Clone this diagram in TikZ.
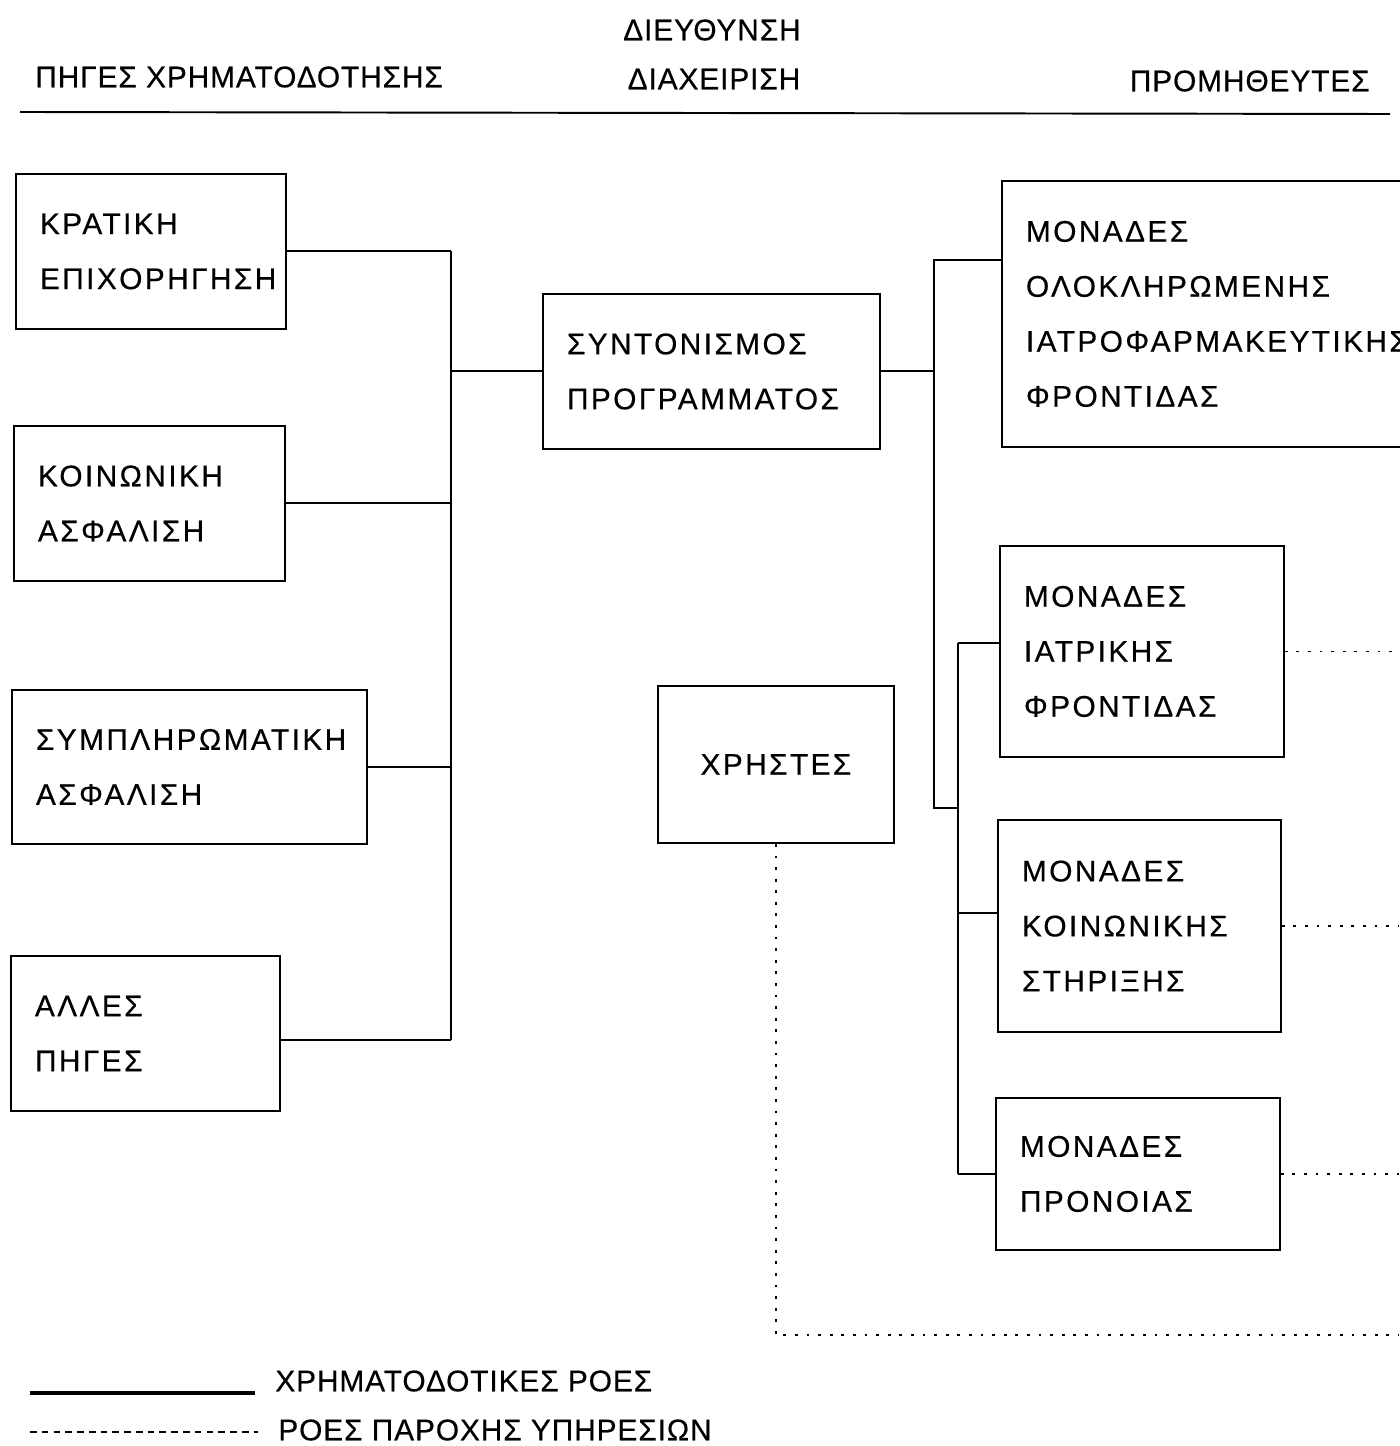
\documentclass[tikz,border=0pt]{standalone}
\usepackage{fontspec}
\setmainfont{Liberation Sans}[LetterSpace=3, FakeBold=0.4]
\newfontfamily\boxfont{Liberation Sans}[LetterSpace=8, FakeBold=0.4]
\usepackage{tikz}

\begin{document}
\begin{tikzpicture}[x=0.02cm, y=-0.02cm,
    box/.style={draw, line width=1.1pt, anchor=north west, align=left,
        inner xsep=0.48cm, inner ysep=0pt,
        font=\boxfont\fontsize{17}{31.3}\selectfont},
    hdr/.style={inner sep=0pt, font=\fontsize{17}{20}\selectfont},
    fin/.style={line width=1.1pt},
    svc/.style={line width=1pt, dash pattern=on 1.6pt off 5pt}]
            \useasboundingbox (0,0) rectangle (1399,1446);

            % headings
            \node[hdr] (dieuth) at (712,30) {ΔΙΕΥΘΥΝΣΗ};
            \node[hdr] (diax) at (714,79) {ΔΙΑΧΕΙΡΙΣΗ};
            \node[hdr, anchor=west] (piges) at (35,77) {ΠΗΓΕΣ ΧΡΗΜΑΤΟΔΟΤΗΣΗΣ};
            \node[hdr, anchor=east] (prom) at (1370,81) {ΠΡΟΜΗΘΕΥΤΕΣ};
            \draw[fin] (20,112) -- (1390,114);

            % funding sources
            \node[box, text width=4.44cm, minimum height=3.10cm] (kratiki) at (15,173) {ΚΡΑΤΙΚΗ\\ΕΠΙΧΟΡΗΓΗΣΗ};
            \node[box, text width=4.46cm, minimum height=3.10cm] (koinoniki) at (13,425) {ΚΟΙΝΩΝΙΚΗ\\ΑΣΦΑΛΙΣΗ};
            \node[box, text width=6.14cm, minimum height=3.08cm] (sympl) at (11,689) {ΣΥΜΠΛΗΡΩΜΑΤΙΚΗ\\ΑΣΦΑΛΙΣΗ};
            \node[box, text width=4.42cm, minimum height=3.10cm] (alles) at (10,955) {ΑΛΛΕΣ\\ΠΗΓΕΣ};

            % management
            \node[box, text width=5.78cm, minimum height=3.10cm] (synton) at (542,293) {ΣΥΝΤΟΝΙΣΜΟΣ\\ΠΡΟΓΡΑΜΜΑΤΟΣ};
            \node[box, text width=3.76cm, minimum height=3.14cm, align=center] (xristes) at (657,685) {ΧΡΗΣΤΕΣ};

            % suppliers
            \node[box, text width=7.64cm, minimum height=5.32cm] (olokl) at (1001,180) {ΜΟΝΑΔΕΣ\\ΟΛΟΚΛΗΡΩΜΕΝΗΣ\\ΙΑΤΡΟΦΑΡΜΑΚΕΥΤΙΚΗΣ\\ΦΡΟΝΤΙΔΑΣ};
            \node[box, text width=4.72cm, minimum height=4.22cm] (iatr) at (999,545) {ΜΟΝΑΔΕΣ\\ΙΑΤΡΙΚΗΣ\\ΦΡΟΝΤΙΔΑΣ};
            \node[box, text width=4.70cm, minimum height=4.24cm] (koinon) at (997,819) {ΜΟΝΑΔΕΣ\\ΚΟΙΝΩΝΙΚΗΣ\\ΣΤΗΡΙΞΗΣ};
            \node[box, text width=4.72cm, minimum height=3.04cm] (pron) at (995,1097) {ΜΟΝΑΔΕΣ\\ΠΡΟΝΟΙΑΣ};

            \coordinate (lbus) at (451,0);
            \coordinate (alc) at (279,1040);
            \coordinate (rtop) at (934,260);
            \coordinate (rbot) at (934,808);
            \coordinate (sbus) at (958,0);
            \coordinate (ic) at (958,643);
            \coordinate (kc) at (958,913);
            \coordinate (redge) at (1399,0);
            \coordinate (uend) at (1399,1335);

            % funding flows
            \draw[fin] (kratiki.east) -- (kratiki.east -| lbus);
            \draw[fin] (koinoniki.east) -- (koinoniki.east -| lbus);
            \draw[fin] (sympl.east) -- (sympl.east -| lbus);
            \draw[fin] (alc) -- (alc -| lbus);
            \draw[fin] (kratiki.east -| lbus) -- (alc -| lbus);
            \draw[fin] (synton.west) -- (synton.west -| lbus);
            \draw[fin] (synton.east) -- (synton.east -| rtop);
            \draw[fin] (rtop -| olokl.west) -- (rtop) -- (rbot) -- (rbot -| sbus);
            \draw[fin] (ic) -- (pron.west -| sbus);
            \draw[fin] (ic) -- (ic -| iatr.west);
            \draw[fin] (kc) -- (kc -| koinon.west);
            \draw[fin] (pron.west) -- (pron.west -| sbus);

            % service flows
            \draw[svc] (iatr.east) -- (iatr.east -| redge);
            \draw[svc] (koinon.east) -- (koinon.east -| redge);
            \draw[svc] (pron.east) -- (pron.east -| redge);
            \draw[svc] (xristes.south) |- (uend);

            % legend
            \node[hdr, anchor=west] (lgfin) at (275,1381) {ΧΡΗΜΑΤΟΔΟΤΙΚΕΣ ΡΟΕΣ};
            \node[hdr, anchor=west] (lgsvc) at (278,1430) {ΡΟΕΣ ΠΑΡΟΧΗΣ ΥΠΗΡΕΣΙΩΝ};
            \coordinate (lga) at (30,1393);
            \coordinate (lgae) at (255,1393);
            \coordinate (lgb) at (30,1432);
            \coordinate (lgbe) at (258,1432);
            \draw[line width=1.8pt] (lga) -- (lgae);
            \draw[line width=1pt, dash pattern=on 3.8pt off 2.9pt] (lgb) -- (lgbe);
            \end{tikzpicture}
\end{document}
